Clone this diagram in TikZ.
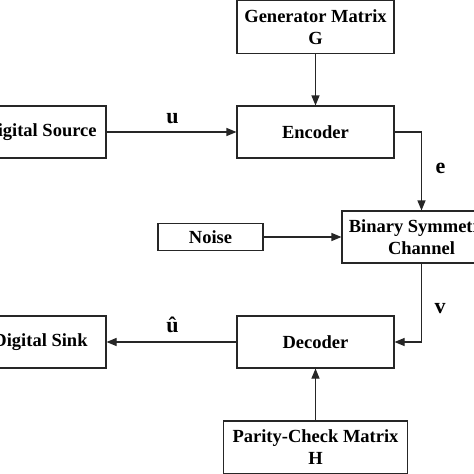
\documentclass[tikz,border=0pt]{standalone}
\usepackage{fontspec}
\setmainfont{Liberation Serif}
\usetikzlibrary{arrows.meta}
\tikzset{
  blk/.style={draw=black!85, line width=1.1pt, fill=white, align=center, inner sep=0pt,
    font=\fontsize{18.5}{22}\selectfont\bfseries},
  conn/.style={draw=black!85, line width=1.1pt, -{Triangle[length=10pt,width=8pt]}},
  lbl/.style={font=\fontsize{22}{24}\selectfont\bfseries, inner sep=0pt}
}
\begin{document}
\begin{tikzpicture}[x=1pt,y=-1pt]
\clip (0,0) rectangle (474,474);
\fill[white] (0,0) rectangle (474,474);
\node[blk, minimum width=157pt, minimum height=53pt] (gen) at (315.5,27) {Generator Matrix\\G};
\node[blk, minimum width=157pt, minimum height=52pt] (enc) at (315.5,132) {Encoder};
\node[blk, minimum width=131pt, minimum height=52pt] (src) at (40.5,132) {Digital Source};
\node[blk, minimum width=159pt, minimum height=52pt] (bsc) at (421.5,237) {Binary Symmetric\\Channel};
\node[blk, minimum width=105pt, minimum height=27pt] (noise) at (210.5,237) {Noise};
\node[blk, minimum width=157pt, minimum height=52pt] (dec) at (315.5,342) {Decoder};
\node[blk, minimum width=131pt, minimum height=52pt] (sink) at (40.5,342) {Digital Sink};
\node[blk, minimum width=184pt, minimum height=53pt] (par) at (315.5,447.5) {Parity-Check Matrix\\H};
\node[lbl] (lu) at (172.5,119) {u};
\node[lbl] (le) at (440.5,168) {e};
\node[lbl] (lv) at (440,309) {v};
\node[lbl] (lhu) at (172.5,325) {û};
\draw[conn] (gen.south) -- (enc.north);
\draw[conn] (src.east) -- (enc.west);
\draw[conn] (enc.east) -| (bsc.north);
\draw[conn] (noise.east) -- (bsc.west);
\draw[conn] (bsc.south) |- (dec.east);
\draw[conn] (dec.west) -- (sink.east);
\draw[conn] (par.north) -- (dec.south);
\end{tikzpicture}
\end{document}
